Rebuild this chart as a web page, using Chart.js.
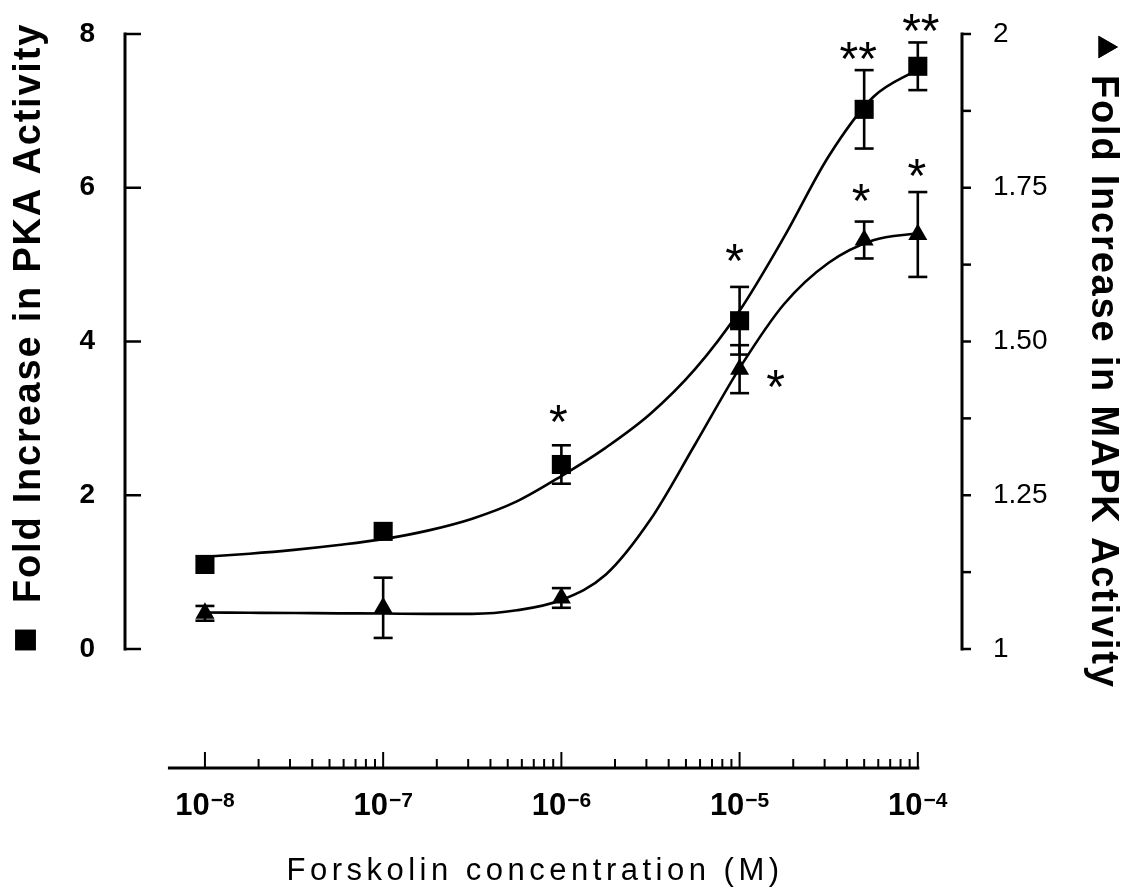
<!DOCTYPE html>
<html>
<head>
<meta charset="utf-8">
<script src="https://cdn.jsdelivr.net/npm/chart.js@4.4.1/dist/chart.umd.min.js"></script>
<style>
  html, body { margin: 0; padding: 0; background: #fff; }
  canvas { display: block; }
</style>
</head>
<body>
<canvas id="chart" width="1141" height="891"></canvas>
<script>
// Forskolin concentrations tested (M)
const doses = [1e-8, 1e-7, 1e-6, 1e-5, 5e-5, 1e-4];

// PKA activity, fold increase: mean and error
const pkaMean = [1.10, 1.53, 2.40, 4.27, 7.02, 7.58];
const pkaErr  = [0, 0, 0.25, 0.44, 0.51, 0.31];

// MAPK activity, fold increase: mean and error
const mapkMean = [1.058, 1.067, 1.083, 1.455, 1.665, 1.674];
const mapkErr  = [0.012, 0.049, 0.016, 0.039, 0.030, 0.069];

// Fitted dose-response curves, sampled every quarter decade
const fitDoses = [1e-8, 1.778e-8, 3.162e-8, 5.623e-8, 1e-7, 1.778e-7, 3.162e-7, 5.623e-7,
                  1e-6, 1.778e-6, 3.162e-6, 5.623e-6, 1e-5, 1.778e-5, 3.162e-5, 5.623e-5, 1e-4];
const pkaFit  = [1.20, 1.24, 1.29, 1.353, 1.429, 1.54, 1.695, 1.92,
                 2.25, 2.62, 3.06, 3.64, 4.40, 5.36, 6.41, 7.18, 7.54];
const mapkFit = [1.0593, 1.0589, 1.0585, 1.0580, 1.0577, 1.0571, 1.0571, 1.0629,
                 1.0797, 1.1211, 1.2104, 1.3325, 1.4567, 1.5610, 1.6281, 1.6647, 1.6761];

// Significance marks per dose
const pkaStars  = ['', '', '*', '*', '**', '**'];
const mapkStars = ['', '', '', '*', '*', '*'];

// Axis ticks
const pkaTicks    = [0, 2, 4, 6, 8];
const mapkTicks   = [1, 1.25, 1.5, 1.75, 2];
const doseDecades = [-8, -7, -6, -5, -4];

// ---- presentation settings ----
const FONT = "'Liberation Sans', Arial, Helvetica, sans-serif";
const X_RANGE = [3.56e-9, 1.77e-4];   // visible dose range of the plot area
const X_AXIS_START = 6.2e-9;          // where the drawn dose axis line begins
const X_AXIS_DROP = 119;              // dose axis sits below the plot area
// offsets (px) of significance marks from their marker
const starOffsets = {
  pka:  [null, null, [-3, -51], [-5, -68], [-6, -59], [3, -44]],
  mapk: [null, null, null, [36, 9], [-3, -48], [-1, -67]]
};

const pts = (xs, ys) => xs.map((v, i) => ({ x: v, y: ys[i] }));

function seg(ctx, x1, y1, x2, y2) {
  ctx.beginPath(); ctx.moveTo(x1, y1); ctx.lineTo(x2, y2); ctx.stroke();
}

const errorBars = {
  id: 'errorBars',
  beforeDatasetsDraw(chart) {
    const { ctx, scales } = chart;
    ctx.save();
    ctx.strokeStyle = '#000';
    ctx.lineWidth = 2.6;
    const draw = (means, errs, scale) => {
      means.forEach((m, i) => {
        if (!errs[i]) return;
        const px = scales.x.getPixelForValue(doses[i]);
        const top = scale.getPixelForValue(m + errs[i]);
        const bot = scale.getPixelForValue(m - errs[i]);
        seg(ctx, px, top, px, bot);
        seg(ctx, px - 9.5, top, px + 9.5, top);
        seg(ctx, px - 9.5, bot, px + 9.5, bot);
      });
    };
    draw(pkaMean, pkaErr, scales.y);
    draw(mapkMean, mapkErr, scales.y2);
    ctx.restore();
  }
};

const frame = {
  id: 'frame',
  afterDraw(chart) {
    const { ctx, chartArea: a, scales: { x, y, y2 } } = chart;
    ctx.save();
    ctx.strokeStyle = '#000';
    ctx.fillStyle = '#000';

    // left (PKA) axis, ticks pointing inward
    ctx.lineWidth = 3;
    seg(ctx, a.left, y.getPixelForValue(0) + 1.5, a.left, y.getPixelForValue(8) - 1.5);
    ctx.lineWidth = 2.5;
    y.ticks.forEach(t => {
      const py = y.getPixelForValue(t.value);
      seg(ctx, a.left, py, a.left + 16, py);
    });

    // right (MAPK) axis, ticks pointing outward
    ctx.lineWidth = 3;
    seg(ctx, a.right, y2.getPixelForValue(1) + 1.5, a.right, y2.getPixelForValue(2) - 1.5);
    ctx.lineWidth = 2.5;
    y2.ticks.forEach(t => {
      const py = y2.getPixelForValue(t.value);
      seg(ctx, a.right, py, a.right + 9, py);
    });

    // detached dose axis with log ticks pointing up
    const ay = a.bottom + X_AXIS_DROP;
    ctx.lineWidth = 3;
    seg(ctx, x.getPixelForValue(X_AXIS_START), ay, x.getPixelForValue(1e-4) + 1.5, ay);
    ctx.lineWidth = 2;
    doseDecades.forEach((d, i) => {
      const px = x.getPixelForValue(Math.pow(10, d));
      seg(ctx, px, ay, px, ay - 16);
      if (i < doseDecades.length - 1) {
        for (let k = 2; k <= 9; k++) {
          const mx = x.getPixelForValue(k * Math.pow(10, d));
          seg(ctx, mx, ay, mx, ay - 9);
        }
      }
    });

    // dose tick labels: 10 with superscript exponent
    ctx.textBaseline = 'alphabetic';
    ctx.textAlign = 'left';
    doseDecades.forEach(d => {
      const px = x.getPixelForValue(Math.pow(10, d));
      const base = '10', exp = '\u2212' + Math.abs(d);
      ctx.font = `bold 31px ${FONT}`;
      const wb = ctx.measureText(base).width;
      ctx.font = `bold 21px ${FONT}`;
      const we = ctx.measureText(exp).width;
      const sx = px - (wb + we + 1) / 2;
      ctx.font = `bold 31px ${FONT}`;
      ctx.fillText(base, sx, ay + 47);
      ctx.font = `bold 21px ${FONT}`;
      ctx.fillText(exp, sx + wb + 1, ay + 39);
    });

    // dose axis title
    ctx.font = `31px ${FONT}`;
    ctx.letterSpacing = '4.5px';
    ctx.textAlign = 'center';
    ctx.fillText('Forskolin concentration (M)', 535, 880);

    // left title with square key
    ctx.letterSpacing = '1.8px';
    ctx.font = `bold 38px ${FONT}`;
    ctx.textAlign = 'left';
    ctx.save();
    ctx.translate(40, 603);
    ctx.rotate(-Math.PI / 2);
    ctx.fillText('Fold Increase in PKA Activity', 0, 0);
    ctx.restore();
    Chart.helpers.drawPoint(ctx, { pointStyle: 'rect', radius: 14.5, rotation: 0, borderWidth: 0 }, 25.5, 640);
    ctx.fill();

    // right title with triangle key
    ctx.save();
    ctx.translate(1092, 75);
    ctx.rotate(Math.PI / 2);
    ctx.fillText('Fold Increase in MAPK Activity', 0, 0);
    ctx.restore();
    ctx.letterSpacing = '0px';
    Chart.helpers.drawPoint(ctx, { pointStyle: 'triangle', radius: 13, rotation: 90, borderWidth: 0 }, 1105, 47);
    ctx.fill();

    // significance marks
    ctx.font = `48px ${FONT}`;
    ctx.textAlign = 'center';
    const stars = (marks, means, scale, offs) => {
      marks.forEach((s, i) => {
        if (!s) return;
        const m = ctx.measureText(s);
        const cx = x.getPixelForValue(doses[i]) + offs[i][0];
        const cy = scale.getPixelForValue(means[i]) + offs[i][1];
        ctx.fillText(s, cx, cy + (m.actualBoundingBoxAscent - m.actualBoundingBoxDescent) / 2);
      });
    };
    stars(pkaStars, pkaMean, y, starOffsets.pka);
    stars(mapkStars, mapkMean, y2, starOffsets.mapk);

    ctx.restore();
  }
};

// vertical axes keep exactly the widths of the figure margins
const fitVertical = w => s => { s.width = w; s.paddingTop = 0; s.paddingBottom = 0; };

new Chart(document.getElementById('chart'), {
  type: 'scatter',
  data: {
    datasets: [
      {
        label: 'PKA',
        data: pts(doses, pkaMean),
        yAxisID: 'y',
        pointStyle: 'rect',
        pointRadius: 13.5,
        pointBorderWidth: 0,
        backgroundColor: '#000',
        borderColor: '#000',
        showLine: false
      },
      {
        label: 'MAPK',
        data: pts(doses, mapkMean),
        yAxisID: 'y2',
        pointStyle: 'triangle',
        pointRadius: 11,
        pointBorderWidth: 0,
        backgroundColor: '#000',
        borderColor: '#000',
        showLine: false
      },
      {
        label: 'PKA fit',
        data: pts(fitDoses, pkaFit),
        yAxisID: 'y',
        showLine: true,
        pointRadius: 0,
        borderColor: '#000',
        borderWidth: 2.6,
        cubicInterpolationMode: 'monotone'
      },
      {
        label: 'MAPK fit',
        data: pts(fitDoses, mapkFit),
        yAxisID: 'y2',
        showLine: true,
        pointRadius: 0,
        borderColor: '#000',
        borderWidth: 2.6,
        cubicInterpolationMode: 'monotone'
      }
    ]
  },
  options: {
    responsive: false,
    animation: false,
    devicePixelRatio: 1,
    layout: { padding: { top: 34, left: 0, right: 0, bottom: 0 } },
    plugins: { legend: { display: false }, tooltip: { enabled: false } },
    scales: {
      x: {
        type: 'logarithmic',
        position: 'bottom',
        min: X_RANGE[0],
        max: X_RANGE[1],
        grid: { display: false, drawTicks: false },
        border: { display: false },
        ticks: { display: false },
        afterFit: s => { s.height = 242; s.paddingLeft = 0; s.paddingRight = 0; }
      },
      y: {
        type: 'linear',
        position: 'left',
        min: pkaTicks[0],
        max: pkaTicks[pkaTicks.length - 1],
        grid: { display: false, drawTicks: false },
        border: { display: false },
        ticks: {
          stepSize: pkaTicks[1] - pkaTicks[0],
          color: '#000',
          padding: 30,
          font: { family: FONT, size: 28, weight: 'bold' },
          callback: v => String(v)
        },
        afterFit: fitVertical(125)
      },
      y2: {
        type: 'linear',
        position: 'right',
        min: mapkTicks[0],
        max: mapkTicks[mapkTicks.length - 1],
        grid: { display: false, drawTicks: false },
        border: { display: false },
        ticks: {
          stepSize: 0.125,
          color: '#000',
          padding: 31,
          font: { family: FONT, size: 28 },
          callback: v => {
            if (!mapkTicks.some(t => Math.abs(t - v) < 1e-9)) return '';
            return Number.isInteger(v) ? String(v) : v.toFixed(2);
          }
        },
        afterFit: fitVertical(179)
      }
    }
  },
  plugins: [errorBars, frame]
});
</script>
</body>
</html>
